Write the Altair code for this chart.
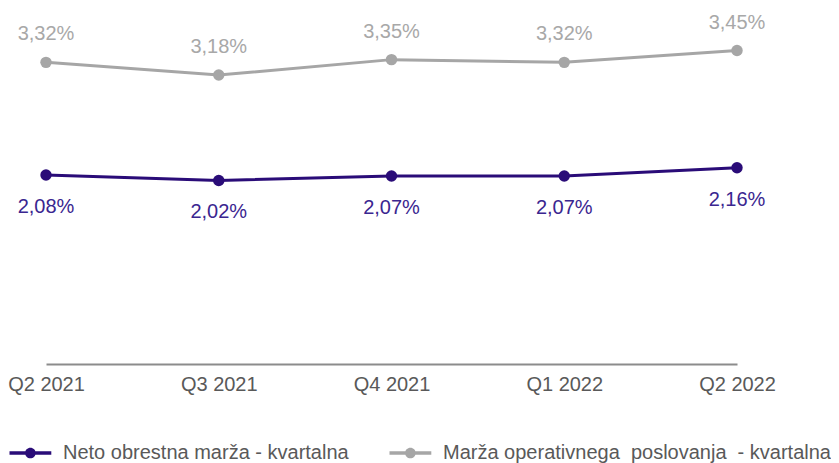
import altair as alt
import pandas as pd

quarters = ["Q2 2021", "Q3 2021", "Q4 2021", "Q1 2022", "Q2 2022"]
neto = [2.08, 2.02, 2.07, 2.07, 2.16]
operativna = [3.32, 3.18, 3.35, 3.32, 3.45]
series_names = ["Neto obrestna marža - kvartalna",
                "Marža operativnega\u00a0 poslovanja\u00a0 - kvartalna"]
colors = ["#2A0C78", "#A6A6A6"]
label_colors = ["#3A2690", "#A8A8A8"]

rows = []
for q, v in zip(quarters, neto):
    rows.append({"q": q, "v": v, "s": series_names[0],
                 "lab": f"{v:.2f}".replace(".", ",") + "%"})
for q, v in zip(quarters, operativna):
    rows.append({"q": q, "v": v, "s": series_names[1],
                 "lab": f"{v:.2f}".replace(".", ",") + "%"})
df = pd.DataFrame(rows)

sym = ("M-1,-0.19H3.4V0.19H-1Z "
       "M1.76,0A0.56,0.56 0 1,1 0.64,0A0.56,0.56 0 1,1 1.76,0Z")

x = alt.X("q:N", sort=quarters, title=None,
          scale=alt.Scale(type="point", padding=0),
          axis=alt.Axis(labelAngle=0, labelFontSize=20, labelColor="#595959",
                        labelFont="Liberation Sans", ticks=False, domainColor="#8C8C8C",
                        domainWidth=2, labelPadding=10, grid=False))
y = alt.Y("v:Q", title=None, scale=alt.Scale(domain=[0, 3.5], nice=False, zero=True),
          axis=None)
color = alt.Color("s:N", sort=series_names,
                  scale=alt.Scale(domain=series_names, range=colors),
                  legend=alt.Legend(title=None, orient="none", direction="horizontal",
                                    legendX=-37, legendY=397, symbolType=sym,
                                    symbolSize=361, symbolStrokeWidth=0,
                                    labelFontSize=20, labelFont="Liberation Sans",
                                    labelColor="#595959", labelLimit=600,
                                    labelOffset=34, columnPadding=40, padding=0))

base = alt.Chart(df)
lines = base.mark_line(strokeWidth=3).encode(x=x, y=y, color=color)
points = base.mark_circle(size=130, opacity=1).encode(x=x, y=y, color=color)

lab_neto = alt.Chart(df[df.s == series_names[0]]).mark_text(
    fontSize=20, font="Liberation Sans", dy=32, baseline="middle",
    color=label_colors[0]).encode(x=x, y=y, text="lab:N")
lab_op = alt.Chart(df[df.s == series_names[1]]).mark_text(
    fontSize=20, font="Liberation Sans", dy=-28, baseline="middle",
    color=label_colors[1]).encode(x=x, y=y, text="lab:N")

chart = alt.layer(lines, points, lab_neto, lab_op).properties(
    width=691, height=318,
    autosize=alt.AutoSizeParams(type="none"),
    padding={"left": 38, "top": 38, "right": 94, "bottom": 100},
).configure_view(stroke=None)

chart.save("out.html", embed_options={"renderer": "svg", "actions": False})
